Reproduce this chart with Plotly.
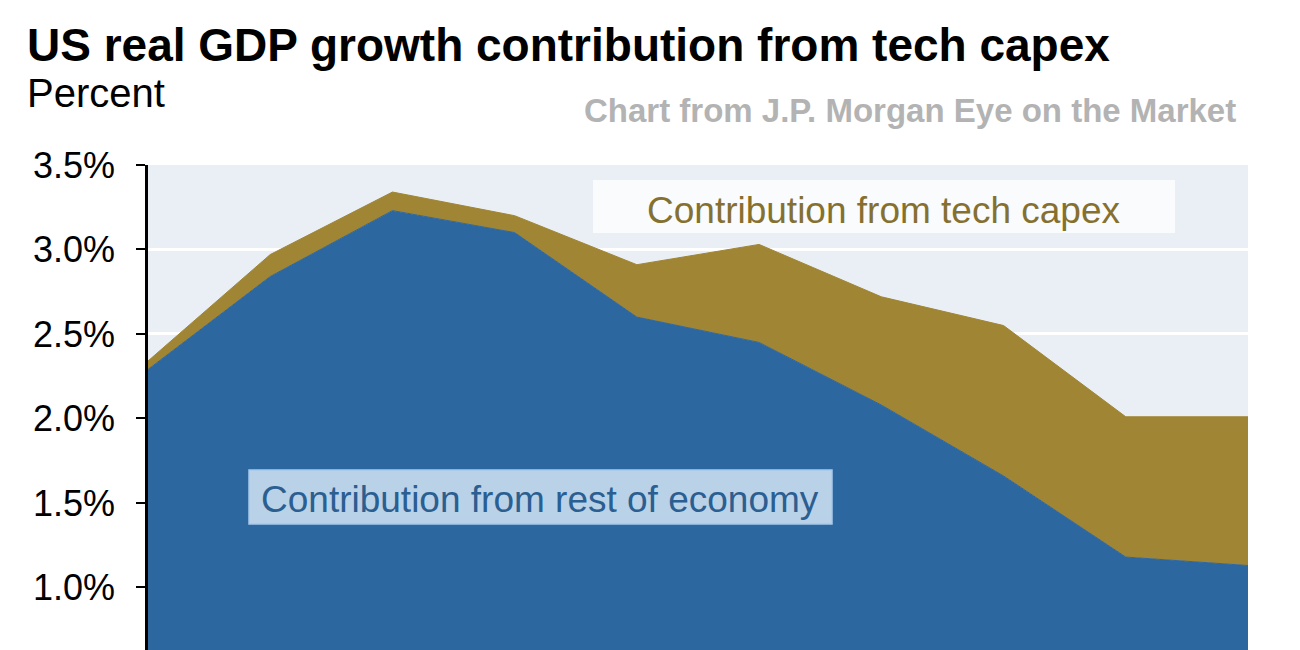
import plotly.graph_objects as go

# Data; x categories not visible in the crop
periods = ["P1", "P2", "P3", "P4", "P5", "P6", "P7", "P8", "P9", "P10"]
rest_of_economy = [2.29, 2.84, 3.23, 3.10, 2.60, 2.45, 2.08, 1.66, 1.18, 1.13]
tech_capex = [0.05, 0.13, 0.11, 0.10, 0.31, 0.58, 0.64, 0.89, 0.83, 0.88]
y_ticks = [1.0, 1.5, 2.0, 2.5, 3.0, 3.5]

BLUE = "#2d67a0"
TAN = "#a08535"
W, H = 1300, 650
L, R, T, B = 148, 52, 165, 0
PW, PH = W - L - R, H - T - B


def px(x):
    return (x - L) / PW


def py(y):
    return (H - B - y) / PH


fig = go.Figure()
fig.add_trace(go.Scatter(
    x=periods, y=rest_of_economy, stackgroup="one", mode="lines",
    line=dict(color=BLUE, width=1), fillcolor=BLUE,
    name="Contribution from rest of economy", showlegend=False,
))
fig.add_trace(go.Scatter(
    x=periods, y=tech_capex, stackgroup="one", mode="lines",
    line=dict(color=TAN, width=1), fillcolor=TAN,
    name="Contribution from tech capex", showlegend=False,
))

fig.update_layout(
    width=W, height=H,
    margin=dict(l=L, r=R, t=T, b=B, pad=0),
    paper_bgcolor="white",
    plot_bgcolor="#e9eff4",
    font=dict(family="Liberation Sans, Arial, sans-serif", color="black"),
    xaxis=dict(
        type="category", range=[0, len(periods) - 1],
        showgrid=False, showticklabels=False, showline=False, zeroline=False,
        ticks="",
    ),
    yaxis=dict(
        range=[0.63, 3.5],
        tickvals=y_ticks,
        ticktext=[f"{v:.1f}%" for v in y_ticks],
        tickfont=dict(size=36, color="black"),
        ticks="outside", ticklen=9, tickwidth=2, tickcolor="black",
        showline=True, linecolor="black", linewidth=2.5,
        showgrid=True, gridcolor="white", gridwidth=3,
        zeroline=False, ticklabelstandoff=14,
    ),
)

# Boxes behind the series labels
fig.add_shape(type="rect", xref="paper", yref="paper",
              x0=px(593), x1=px(1175), y0=py(233), y1=py(180),
              fillcolor="rgba(250,252,253,0.92)", line=dict(width=0), layer="above")
fig.add_shape(type="rect", xref="paper", yref="paper",
              x0=px(249), x1=px(832), y0=py(524), y1=py(470),
              fillcolor="#b9d2e8", line=dict(color="#a8c9ea", width=1.5), layer="above")

fig.add_annotation(text="Contribution from tech capex", xref="paper", yref="paper",
                   x=px(884), y=py(210), xanchor="center", yanchor="middle",
                   showarrow=False, font=dict(size=37, color="#857030"))
fig.add_annotation(text="Contribution from rest of economy", xref="paper", yref="paper",
                   x=px(540), y=py(499), xanchor="center", yanchor="middle",
                   showarrow=False, font=dict(size=37, color="#2b5e91"))

# Titles
fig.add_annotation(text="<b>US real GDP growth contribution from tech capex</b>",
                   xref="paper", yref="paper", x=px(25), y=py(45),
                   xanchor="left", yanchor="middle", showarrow=False,
                   font=dict(size=46, color="black"))
fig.add_annotation(text="Percent", xref="paper", yref="paper", x=px(25), y=py(93),
                   xanchor="left", yanchor="middle", showarrow=False,
                   font=dict(size=40, color="black"))
fig.add_annotation(text="<b>Chart from J.P. Morgan Eye on the Market</b>",
                   xref="paper", yref="paper", x=px(1238), y=py(111),
                   xanchor="right", yanchor="middle", showarrow=False,
                   font=dict(size=33, color="#b3b3b3"))

fig.write_html("out.html")
